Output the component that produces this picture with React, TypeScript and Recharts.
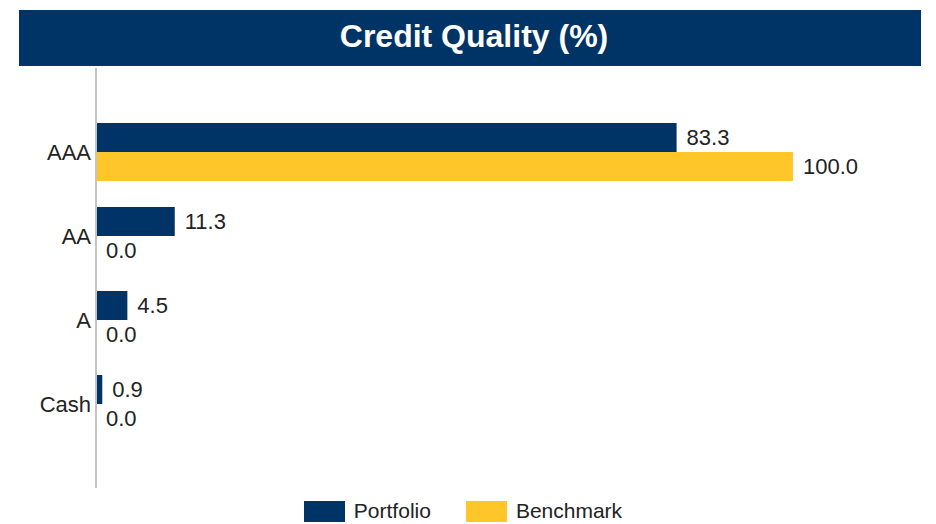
import { BarChart, Bar, XAxis, YAxis, Legend, LabelList } from 'recharts'

const categories = ['AAA', 'AA', 'A', 'Cash']
const portfolio = [83.3, 11.3, 4.5, 0.9]
const benchmark = [100.0, 0.0, 0.0, 0.0]

const NAVY = '#003366'
const GOLD = '#FFC629'
const FONT = '"Liberation Sans", Arial, sans-serif'

const data = categories.map((name, i) => ({
  name,
  Portfolio: portfolio[i],
  Benchmark: benchmark[i],
}))

const fmt = (v: unknown) => Number(v ?? 0).toFixed(1)

function LegendContent() {
  const items = [
    { name: 'Portfolio', color: NAVY },
    { name: 'Benchmark', color: GOLD },
  ]
  return (
    <div style={{ display: 'flex', justifyContent: 'center', gap: 35, paddingRight: 10 }}>
      {items.map(it => (
        <div key={it.name} style={{ display: 'flex', alignItems: 'center', gap: 9 }}>
          <span style={{ width: 41, height: 21, background: it.color, display: 'inline-block' }} />
          <span style={{ fontSize: 21, color: '#222', fontFamily: FONT }}>{it.name}</span>
        </div>
      ))}
    </div>
  )
}

export default function App() {
  return (
    <div
      style={{
        position: 'absolute',
        left: 0,
        top: 0,
        width: 936,
        height: 524,
        background: '#fff',
        fontFamily: FONT,
      }}
    >
      <div
        style={{
          position: 'absolute',
          left: 19,
          top: 10,
          width: 902,
          height: 56,
          background: NAVY,
          color: '#fff',
          fontWeight: 'bold',
          fontSize: 32,
          lineHeight: '32px',
          display: 'flex',
          alignItems: 'center',
          justifyContent: 'center',
          paddingLeft: 8,
          paddingBottom: 4,
          boxSizing: 'border-box',
        }}
      >
        Credit Quality (%)
      </div>
      <div style={{ position: 'absolute', left: 0, top: 0 }}>
        <BarChart
          width={936}
          height={524}
          data={data}
          layout="vertical"
          margin={{ top: 68, right: 143, bottom: 36, left: 0 }}
          barGap={0}
          barSize={29}
        >
          <XAxis type="number" domain={[0, 100]} hide />
          <YAxis
            type="category"
            dataKey="name"
            width={96}
            tickSize={0}
            tickMargin={5}
            tickLine={false}
            axisLine={{ stroke: '#c4c4c4', strokeWidth: 2 }}
            padding={{ top: 42, bottom: 42 }}
            tick={{ fontSize: 22, fill: '#222', fontFamily: FONT }}
          />
          <Legend
            layout="horizontal"
            verticalAlign="middle"
            align="center"
            wrapperStyle={{ top: 499, left: 0, width: 936 }}
            content={<LegendContent />}
          />
          <Bar dataKey="Portfolio" fill={NAVY} isAnimationActive={false}>
            <LabelList
              dataKey="Portfolio"
              position="right"
              offset={10}
              formatter={fmt}
              style={{ fontSize: 22, fill: '#222', fontFamily: FONT }}
            />
          </Bar>
          <Bar dataKey="Benchmark" fill={GOLD} minPointSize={0.01} isAnimationActive={false}>
            <LabelList
              dataKey="Benchmark"
              position="right"
              offset={10}
              formatter={fmt}
              style={{ fontSize: 22, fill: '#222', fontFamily: FONT }}
            />
          </Bar>
        </BarChart>
      </div>
    </div>
  )
}
